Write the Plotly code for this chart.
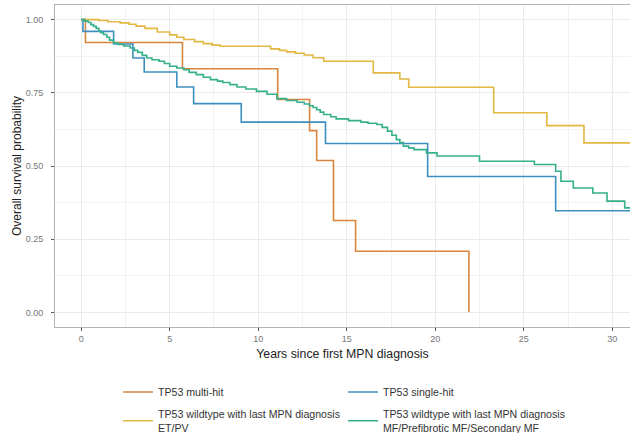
import plotly.graph_objects as go

# ---- data ----
multi_t = [0, 0.24, 5.72, 11.1, 12.9, 13.3, 14.25, 15.5, 21.9]
multi_s = [1.0, 0.922, 0.832, 0.727, 0.621, 0.519, 0.314, 0.209, 0.0]

single_t = [0, 0.1, 1.83, 2.92, 3.56, 5.4, 6.35, 9.04, 13.8, 19.57, 26.8, 31.5]
single_s = [1.0, 0.96, 0.917, 0.869, 0.821, 0.77, 0.713, 0.65, 0.577, 0.464, 0.347, 0.347]

etpv_t = [0, 1.0, 1.5, 2.2, 2.7, 3.1, 3.6, 4.3, 5.0, 5.4, 5.8, 6.4, 6.9, 7.4, 7.85, 10.7, 11.2,
          11.6, 12.1, 12.6, 13.1, 13.7, 16.5, 18.0, 18.5, 23.3, 26.3, 28.4, 31.5]
etpv_s = [1.0, 0.997, 0.993, 0.989, 0.984, 0.978, 0.97, 0.958, 0.948, 0.94, 0.932, 0.925,
          0.918, 0.913, 0.909, 0.9, 0.895, 0.89, 0.885, 0.879, 0.87, 0.858, 0.818, 0.797,
          0.769, 0.682, 0.638, 0.579, 0.579]

mf_t = [0, 0.2, 0.4, 0.55, 0.7, 0.85, 1.0, 1.1, 1.26, 1.45, 1.6, 1.83, 2.1, 2.4, 2.77, 3.0,
        3.2, 3.45, 3.7, 4.0, 4.4, 4.7, 5.0, 5.4, 5.8, 6.1, 6.5, 6.9, 7.3, 7.7, 8.0, 8.4, 8.8,
        9.3, 9.9, 10.5, 11.05, 11.6, 12.2, 12.6, 12.9, 13.1, 13.3, 13.5, 13.7, 14.1, 14.4,
        15.1, 15.8, 16.2, 16.7, 17.0, 17.3, 17.55, 17.8, 18.0, 18.2, 18.5, 18.8, 19.5, 20.1,
        22.5, 25.6, 26.8, 27.1, 27.8, 28.9, 29.7, 30.7, 31.5]
mf_s = [1.0, 0.995, 0.99, 0.983, 0.977, 0.97, 0.962, 0.955, 0.949, 0.94, 0.93, 0.92, 0.915,
        0.91, 0.903, 0.895, 0.888, 0.878, 0.869, 0.863, 0.858, 0.85, 0.841, 0.835, 0.829,
        0.82, 0.812, 0.803, 0.795, 0.79, 0.785, 0.778, 0.77, 0.763, 0.755, 0.745, 0.73,
        0.724, 0.718, 0.712, 0.706, 0.7, 0.692, 0.684, 0.676, 0.668, 0.661, 0.655, 0.65,
        0.646, 0.642, 0.632, 0.619, 0.605, 0.59, 0.58, 0.568, 0.562, 0.556, 0.545, 0.534,
        0.516, 0.505, 0.482, 0.448, 0.425, 0.408, 0.38, 0.357, 0.357]

series = [
    ("TP53 multi-hit", multi_t, multi_s, "#D8863F", "legend"),
    ("TP53 single-hit", single_t, single_s, "#3E8FBD", "legend"),
    ("TP53 wildtype with last MPN diagnosis<br>ET/PV", etpv_t, etpv_s, "#E2B842", "legend2"),
    ("TP53 wildtype with last MPN diagnosis<br>MF/Prefibrotic MF/Secondary MF", mf_t, mf_s, "#35B08C", "legend2"),
]

x_ticks = [0, 5, 10, 15, 20, 25, 30]
y_ticks = [0.0, 0.25, 0.50, 0.75, 1.00]
y_tick_labels = ["0.00", "0.25", "0.50", "0.75", "1.00"]

fig = go.Figure()
for name, t, s, c, lg in series:
    fig.add_trace(go.Scatter(x=t, y=s, mode="lines", name=name, legend=lg,
                             line=dict(color=c, width=1.6, shape="hv")))

font_family = "Liberation Sans, Arial, sans-serif"
legend_common = dict(orientation="h", xanchor="left", yanchor="top",
                     entrywidth=180, entrywidthmode="pixels",
                     font=dict(size=10.6, color="#333333"), itemwidth=30,
                     bgcolor="rgba(0,0,0,0)")
fig.update_layout(
    width=630, height=433,
    margin=dict(l=55, r=0, t=5, b=106, autoexpand=False),
    paper_bgcolor="white", plot_bgcolor="white",
    font=dict(family=font_family, color="#333333"),
    showlegend=True,
    legend=dict(x=0.1096, y=-0.157, **legend_common),
    legend2=dict(x=0.1096, y=-0.228, **legend_common),
)
fig.update_xaxes(
    range=[-1.48, 31.0], tickvals=x_ticks, ticktext=[str(v) for v in x_ticks],
    automargin=False,
    showgrid=True, gridcolor="#ebebeb", gridwidth=1,
    minor=dict(dtick=2.5, tick0=0, showgrid=True, gridcolor="#f3f3f3", gridwidth=0.8),
    zeroline=False, showline=True, linecolor="#b3b3b3", linewidth=1, mirror=True,
    ticks="outside", ticklen=3, tickcolor="#555555", ticklabelstandoff=0,
    tickfont=dict(size=9, color="#777777"),
    title=dict(text="Years since first MPN diagnosis", font=dict(size=12.3, color="#222222"), standoff=6),
)
fig.update_yaxes(
    range=[-0.05, 1.05], tickvals=y_ticks, ticktext=y_tick_labels,
    automargin=False,
    showgrid=True, gridcolor="#ebebeb", gridwidth=1,
    minor=dict(dtick=0.125, tick0=0, showgrid=True, gridcolor="#f3f3f3", gridwidth=0.8),
    zeroline=False, showline=True, linecolor="#b3b3b3", linewidth=1, mirror=True,
    ticks="outside", ticklen=3, tickcolor="#555555", ticklabelstandoff=6,
    tickfont=dict(size=9, color="#777777"),
    title=dict(text="Overall survival probability", font=dict(size=12, color="#222222"), standoff=1),
)

fig.write_html("out.html", config={"displayModeBar": False},
               post_script="document.body.style.margin='0';")
